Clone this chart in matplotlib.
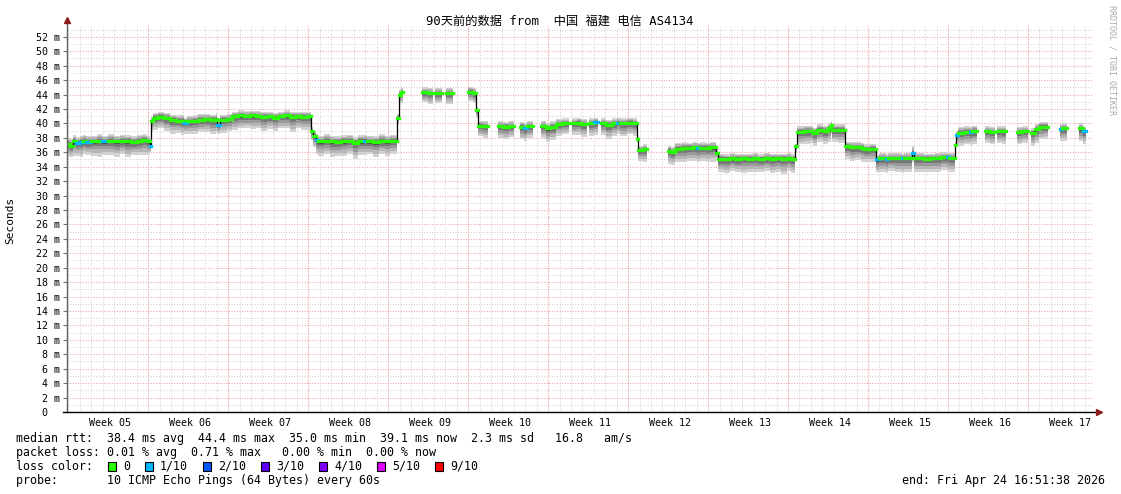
"""
SmokePing 90 天延迟图 - 中国 福建 电信 AS4134
"""

import matplotlib
matplotlib.use('Agg')
import matplotlib.pyplot as plt
from matplotlib.patches import Rectangle
import numpy as np

plt.rcParams['font.family'] = ['DejaVu Sans Mono', 'Noto Sans CJK SC']

# ---- data (time in days from left edge, median rtt in ms) ----
t_day = [
    0.0, 0.3, 0.55, 0.75, 1.1, 1.4, 1.7, 2.1, 2.6, 3.1, 3.6, 4.1, 4.6, 5.1, 5.6, 6.1, 6.6, 7.0, 7.25,
    7.35, 7.55, 8.0, 8.5, 9.0, 9.5, 10.0, 10.2, 10.5, 11.0, 11.5, 12.0, 12.5, 13.0, 13.15, 13.4, 14.0, 14.4, 15.0, 15.5,
    16.0, 16.5, 17.0, 17.5, 18.0, 18.5, 19.0, 19.5, 20.0, 20.5, 21.0,
    21.35, 21.55, 21.75, 22.0, 22.5, 23.0, 23.5, 24.0, 24.5, 25.0, 25.5, 26.0, 26.3, 26.8, 27.3, 27.8, 28.3, 28.85, 29.05, 29.2, 29.4,
    31.1, 31.6, 32.0, 32.2, 32.8, 33.15, 33.8, 35.1, 35.5, 35.8, 36.0, 36.4, 36.85,
    37.7, 38.2, 38.7, 39.1, 39.65, 40.0, 40.3, 40.8, 41.45, 41.9, 42.3, 42.8, 43.3, 43.9, 44.2, 44.6, 45.0, 45.5, 45.7, 46.1, 46.45,
    46.7, 47.2, 47.7, 48.1, 48.4, 49.0, 49.5, 49.85, 50.0, 50.4, 50.75,
    52.6, 52.9, 53.2, 53.8, 54.3, 54.8, 55.1, 55.4, 55.9, 56.3, 56.8,
    57.0, 57.5, 58.0, 58.5, 59.0, 59.5, 60.0, 60.5, 61.0, 61.5, 62.0, 62.5, 63.0, 63.4,
    63.7, 63.9, 64.5, 65.0, 65.3, 65.6, 66.2, 66.6, 66.85, 66.95, 67.5,
    68.07, 68.5, 69.0, 69.5, 69.8, 70.3,
    70.85, 71.05, 71.7, 71.9, 72.5, 73.1, 73.3, 73.95, 74.1, 74.5, 75.0, 75.5, 76.0, 76.5, 77.0, 77.2,
    77.7, 77.85, 78.0, 78.5, 79.0, 79.2, 79.65,
    80.35, 80.8, 81.25, 81.4, 81.8, 82.2, 83.15, 83.6, 84.1, 84.4, 84.7, 85.1, 85.5, 85.9, 86.9, 87.1, 87.5, 88.6, 88.9, 89.15,
]
nan = np.nan
rtt_median = [
    37.2, 36.9, 37.5, 37.3, 37.4, 37.6, 37.4, 37.5, 37.6, 37.5, 37.6, 37.5, 37.6, 37.5, 37.4, 37.6, 37.7, 37.5, 36.8,
    40.3, 40.8, 40.9, 40.7, 40.5, 40.4, 40.4, 40.1, 40.3, 40.4, 40.5, 40.6, 40.5, 40.6, 39.8, 40.5, 40.6, 41.0, 41.1, 41.0,
    41.1, 41.0, 40.9, 41.0, 40.8, 41.0, 41.1, 40.9, 41.0, 40.9, 41.0,
    38.9, 38.3, 37.7, 37.5, 37.6, 37.5, 37.4, 37.5, 37.6, 37.3, 37.5, 37.6, 37.5, 37.4, 37.6, 37.5, 37.6, 40.8, 44.0, 44.3, nan,
    44.3, 44.2, nan, 44.2, nan, 44.2, nan, 44.4, 44.2, 41.8, 39.7, 39.6, nan,
    39.6, 39.5, 39.6, nan, 39.5, 39.4, 39.6, nan, 39.6, 39.3, 39.5, 39.9, 40.0, nan, 40.0, 40.1, 39.9, nan, 40.0, 40.2, nan,
    40.0, 39.8, 40.0, 40.1, 40.0, 40.1, 40.0, 37.9, 36.3, 36.4, nan,
    36.2, 36.0, 36.5, 36.6, 36.6, 36.7, 36.6, 36.6, 36.6, 36.7, 35.9,
    35.1, 35.1, 35.2, 35.1, 35.2, 35.1, 35.2, 35.1, 35.2, 35.1, 35.2, 35.1, 35.2, 35.1,
    36.8, 38.8, 38.9, 38.9, 38.7, 39.1, 38.9, 39.3, 39.8, 39.1, 39.1,
    36.8, 36.7, 36.7, 36.6, 36.4, 36.5,
    35.0, 35.2, 35.1, 35.2, 35.2, 35.2, 35.2, 35.9, 35.2, 35.2, 35.1, 35.2, 35.2, 35.3, 35.3, 35.2,
    37.0, 38.4, 38.7, 38.8, 38.8, 38.9, nan,
    38.9, 38.8, nan, 38.9, 38.9, nan, 38.8, 38.9, nan, 38.7, 39.2, 39.5, 39.5, nan, 39.2, 39.3, nan, 39.3, 38.9, nan,
]
# packet loss per step, in tenths (0 = green, 1 = light blue)
rtt_loss = [
    0, 0, 0, 1, 1, 0, 1, 0, 0, 1, 0, 0, 0, 0, 0, 0, 0, 0, 1,
    0, 0, 0, 0, 0, 0, 0, 1, 0, 0, 0, 0, 0, 0, 1, 0, 0, 0, 0, 0,
    0, 0, 0, 0, 0, 0, 0, 0, 0, 0, 0,
    0, 0, 1, 0, 0, 0, 0, 0, 0, 0, 0, 1, 0, 0, 0, 0, 0, 0, 0, 0, 0,
    0, 0, 0, 0, 0, 0, 0, 0, 0, 0, 0, 0, 0,
    0, 0, 0, 0, 0, 1, 0, 0, 0, 0, 0, 0, 0, 0, 0, 0, 0, 0, 0, 1, 0,
    0, 0, 0, 1, 0, 0, 0, 0, 0, 0, 0,
    0, 0, 0, 0, 0, 0, 1, 0, 0, 0, 0,
    0, 0, 0, 0, 0, 0, 0, 0, 0, 0, 0, 0, 0, 0,
    0, 0, 0, 0, 0, 0, 0, 0, 0, 0, 0,
    0, 0, 0, 0, 0, 0,
    1, 0, 1, 0, 0, 1, 0, 1, 0, 0, 0, 0, 0, 0, 1, 0,
    0, 1, 0, 0, 1, 0, 0,
    0, 0, 0, 0, 0, 0, 0, 0, 0, 0, 0, 0, 0, 0, 1, 0, 0, 0, 1, 0,
]
# smoke: spread of the ping results above / below the median (ms)
smoke_up = [
    0.8, 1.0, 0.9, 0.8, 0.9, 0.8, 0.9, 0.8, 0.9, 0.8, 0.9, 0.8, 0.8, 0.9, 0.8, 0.8, 0.8, 0.8, 0.5,
    0.6, 0.7, 0.7, 0.8, 0.7, 0.7, 0.8, 0.6, 0.7, 0.7, 0.8, 0.7, 0.7, 0.8, 0.6, 0.7, 0.7, 0.6, 0.7, 0.7,
    0.6, 0.7, 0.7, 0.6, 0.7, 0.6, 0.7, 0.7, 0.6, 0.7, 0.6,
    0.6, 0.7, 0.8, 0.8, 0.9, 0.8, 0.8, 0.9, 0.8, 0.8, 0.9, 0.8, 0.8, 0.8, 0.9, 0.8, 0.8, 0.5, 0.6, 0.6, nan,
    0.7, 0.7, nan, 0.7, nan, 0.7, nan, 0.7, 0.7, 0.5, 0.6, 0.7, nan,
    0.7, 0.7, 0.7, nan, 0.7, 0.6, 0.7, nan, 0.7, 0.7, 0.8, 0.7, 0.7, nan, 0.7, 0.7, 0.7, nan, 0.7, 0.6, nan,
    0.7, 0.7, 0.7, 0.6, 0.7, 0.7, 0.7, 0.4, 0.6, 0.7, nan,
    0.7, 0.7, 0.8, 0.8, 0.7, 0.7, 0.7, 0.8, 0.7, 0.7, 0.4,
    0.7, 0.6, 0.7, 0.7, 0.6, 0.7, 0.7, 0.6, 0.7, 0.7, 0.6, 0.7, 0.7, 0.6,
    0.4, 0.8, 0.8, 0.8, 0.7, 0.8, 0.8, 0.7, 0.5, 0.8, 0.8,
    0.6, 0.7, 0.7, 0.7, 0.7, 0.7,
    0.6, 0.7, 0.6, 0.7, 0.7, 0.6, 0.7, 0.9, 0.7, 0.7, 0.7, 0.6, 0.7, 0.7, 0.6, 0.7,
    0.4, 0.6, 0.8, 0.8, 0.7, 0.8, nan,
    0.7, 0.7, nan, 0.7, 0.7, nan, 0.7, 0.7, nan, 0.6, 0.7, 0.7, 0.7, nan, 0.7, 0.7, nan, 0.7, 0.6, nan,
]
smoke_dn = [
    1.9, 1.6, 2.0, 1.8, 2.1, 1.9, 1.8, 2.0, 2.2, 1.9, 2.0, 2.1, 1.9, 2.2, 1.8, 2.0, 2.1, 1.9, 0.8,
    1.5, 1.7, 1.6, 1.8, 1.9, 1.7, 2.0, 1.5, 1.8, 1.9, 1.7, 1.8, 2.0, 1.6, 1.2, 1.8, 1.7, 1.9, 1.8, 1.6,
    1.9, 1.7, 2.0, 1.8, 1.9, 1.7, 1.8, 2.1, 1.7, 1.8, 1.9,
    1.2, 1.6, 1.9, 2.0, 1.8, 2.1, 1.9, 2.0, 1.8, 2.2, 1.9, 2.0, 1.8, 2.1, 1.9, 2.0, 1.8, 1.0, 1.4, 1.5, nan,
    1.4, 1.5, nan, 1.4, nan, 1.5, nan, 1.3, 1.4, 1.0, 1.5, 1.6, nan,
    1.6, 1.7, 1.5, nan, 1.7, 1.9, 1.6, nan, 1.6, 1.9, 1.8, 1.6, 1.5, nan, 1.6, 1.7, 1.8, nan, 1.7, 1.8, nan,
    1.6, 1.9, 1.7, 1.5, 1.8, 1.6, 1.7, 0.6, 1.5, 1.7, nan,
    1.8, 1.7, 1.9, 2.0, 1.8, 1.9, 2.0, 1.8, 1.9, 2.0, 0.8,
    1.9, 2.0, 1.8, 1.9, 2.1, 1.8, 2.0, 1.9, 1.8, 2.0, 1.9, 2.1, 1.8, 2.0,
    0.8, 1.7, 1.8, 1.6, 1.9, 1.7, 1.8, 1.9, 1.2, 1.7, 1.8,
    1.7, 1.9, 1.8, 1.9, 1.7, 1.8,
    1.8, 1.9, 2.0, 1.8, 1.9, 2.1, 1.9, 1.2, 2.0, 1.9, 1.8, 2.0, 1.9, 1.8, 1.9, 2.0,
    0.8, 1.3, 1.8, 1.7, 1.8, 1.7, nan,
    1.6, 1.7, nan, 1.6, 1.7, nan, 1.7, 1.6, nan, 1.8, 1.9, 1.7, 1.6, nan, 1.6, 1.7, nan, 1.8, 1.7, nan,
]

week_labels = ['Week 05', 'Week 06', 'Week 07', 'Week 08', 'Week 09', 'Week 10', 'Week 11',
               'Week 12', 'Week 13', 'Week 14', 'Week 15', 'Week 16', 'Week 17']
loss_labels = ['0', '1/10', '2/10', '3/10', '4/10', '5/10', '9/10']
loss_colors = ['#26ff00', '#00b8ff', '#0059ff', '#5e00ff', '#7e00ff', '#dd00ff', '#ff0000']

title = '90天前的数据 from  中国 福建 电信 AS4134'
stat_lines = [
    'median rtt:  38.4 ms avg  44.4 ms max  35.0 ms min  39.1 ms now  2.3 ms sd   16.8   am/s',
    'packet loss: 0.01 % avg  0.71 % max   0.00 % min  0.00 % now',
    'loss color:',
    'probe:       10 ICMP Echo Pings (64 Bytes) every 60s',
]
end_text = 'end: Fri Apr 24 16:51:38 2026'

assert len(t_day) == len(rtt_median) == len(rtt_loss) == len(smoke_up) == len(smoke_dn)

# ---- figure ----
W, H = 1121, 494
X_END = 89.8
Y_TOP = 53.5


def fx(px):
    return px / W


def fy(py):
    return 1 - py / H


fig = plt.figure(figsize=(W / 100, H / 100), dpi=100)
ax = fig.add_axes([fx(67), fy(412), fx(1093 - 67), (412 - 26) / H])
ax.set_xlim(0, X_END)
ax.set_ylim(0, Y_TOP)
for s in ax.spines.values():
    s.set_visible(False)

# grid: gray minor (1 m, 1 day), red major (2 m, 1 week)
dot = (0, (1, 1.5))
for y in range(1, 54):
    c = '#f0a2a2' if y % 2 == 0 else '#d6d6d6'
    ax.axhline(y, color=c, lw=0.75, ls=dot, zorder=0)
week_start = 7.11
for d in np.arange(week_start % 1, X_END, 1.0):
    ax.axvline(d, color='#d6d6d6', lw=0.75, ls=dot, zorder=0)
for d in np.arange(week_start, X_END, 7.0):
    ax.axvline(d, color='#f0a0a0', lw=0.75, ls=dot, zorder=0.5)

t = np.array(t_day)
med = np.array(rtt_median)
up = np.array(smoke_up)
dn = np.array(smoke_dn)
width = np.diff(np.append(t, X_END))
ok = ~np.isnan(med)

# smoke, outer (light) to inner (dark)
layers = [(1.0, 1.0, '#d2d2d2'), (0.78, 0.75, '#b6b6b6'), (0.55, 0.5, '#999999'),
          (0.35, 0.3, '#777777'), (0.16, 0.12, '#4a4a4a')]
for fd, fu, col in layers:
    lo = med - dn * fd
    hi = med + up * fu
    ax.bar(t[ok], (hi - lo)[ok], width=width[ok], bottom=lo[ok], align='edge',
           color=col, linewidth=0, zorder=2)

# median line + loss colored dashes
ax.plot(t, med, drawstyle='steps-post', color='black', lw=0.9, zorder=3)
seg_colors = [loss_colors[l] for l in np.array(rtt_loss)[ok]]
ax.hlines(med[ok], t[ok], (t + width)[ok], colors=seg_colors, lw=2.3, zorder=4,
          capstyle='projecting')

# axes with arrows
ax.plot([0, 0], [0, 54.1], color='#606060', lw=1, clip_on=False, zorder=5)
ax.plot([-0.35, 90.1], [0, 0], color='black', lw=1, clip_on=False, zorder=5)
ax.plot([0], [54.3], marker='^', color='#8b1a1a', ms=4, clip_on=False, zorder=6)
ax.plot([90.3], [0], marker='>', color='#8b1a1a', ms=4, clip_on=False, zorder=6)

yt = list(range(0, 53, 2))
ax.set_yticks(yt)
ax.set_yticklabels(['0  '] + [f'{v} m' for v in yt[1:]])
ax.tick_params(axis='y', length=3, width=0.8, color='#707070', pad=2, labelsize=7.2)
ax.set_xticks([week_start - 3.35 + 7 * i for i in range(len(week_labels))])
ax.set_xticklabels(week_labels)
ax.tick_params(axis='x', length=0, pad=4, labelsize=7.2)

# texts
fig.text(fx(560), fy(21), title, ha='center', va='center', fontsize=8.8)
fig.text(fx(10), fy(220), 'Seconds', rotation=90, ha='center', va='center', fontsize=8)
fig.text(fx(1112), fy(60), 'RRDTOOL / TOBI OETIKER', rotation=270, ha='center', va='center',
         fontsize=6, color='#aaaaaa')

for i, line in enumerate(stat_lines):
    fig.text(fx(16), fy(438 + 14 * i), line, ha='left', va='center', fontsize=8.4)

box_x = [108, 145, 203, 261, 319, 377, 435]
for bx, col, lab in zip(box_x, loss_colors, loss_labels):
    fig.add_artist(Rectangle((fx(bx), fy(470.5)), fx(8), 8.5 / H, transform=fig.transFigure,
                             facecolor=col, edgecolor='black', lw=0.8))
    fig.text(fx(bx + 15), fy(466), lab, ha='left', va='center', fontsize=8.4)

fig.text(fx(1105), fy(480), end_text, ha='right', va='center', fontsize=8.4)

fig.savefig('out.png', dpi=100)
plt.close(fig)
